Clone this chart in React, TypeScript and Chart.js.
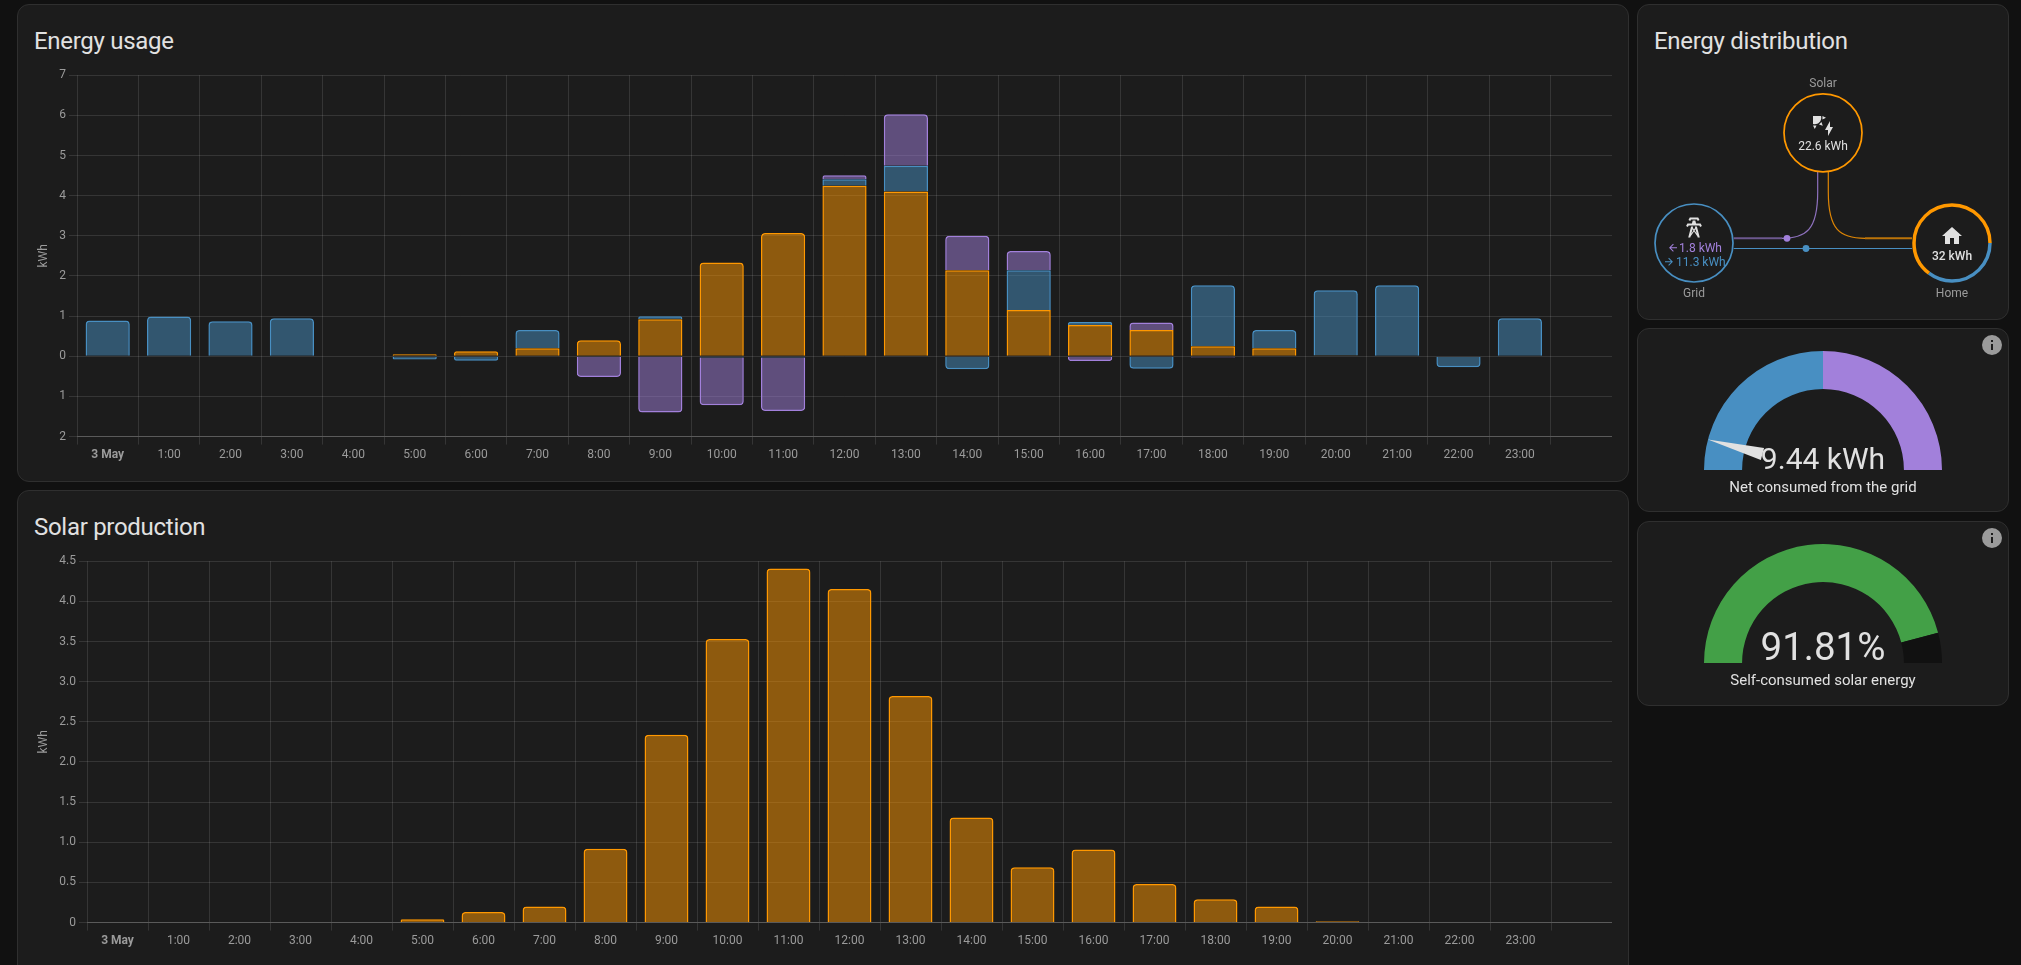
import { useEffect, useRef } from 'react'
import { Chart, ChartConfiguration } from 'chart.js/auto'

const hours = [
  '3 May', '1:00', '2:00', '3:00', '4:00', '5:00', '6:00', '7:00', '8:00', '9:00', '10:00', '11:00',
  '12:00', '13:00', '14:00', '15:00', '16:00', '17:00', '18:00', '19:00', '20:00', '21:00', '22:00', '23:00', ''
]

// Energy usage, stacked: positive values go up from zero, negative ones go down
const usageSolar = [0, 0, 0, 0, 0, 0.05, 0.125, 0.2, 0.4, 0.92, 2.335, 3.07, 4.25, 4.105, 2.145, 1.155, 0.78, 0.656, 0.25, 0.2, 0.02, 0, 0, 0, 0]
const usageGrid = [0.89, 0.99, 0.87, 0.95, 0, -0.08, -0.11, 0.456, 0, 0.08, -0.03, -0.03, 0.16, 0.64, -0.32, 0.99, 0.075, -0.31, 1.52, 0.456, 1.625, 1.77, -0.27, 0.95, 0]
const usageReturn = [0, 0, 0, 0, 0, 0, 0, 0, -0.515, -1.4, -1.19, -1.33, 0.1, 1.285, 0.855, 0.475, -0.115, 0.184, -0.03, 0, 0, 0, 0, 0, 0]

const solarProduction = [0, 0, 0, 0, 0, 0.042, 0.133, 0.2, 0.92, 2.34, 3.53, 4.41, 4.155, 2.82, 1.31, 0.69, 0.91, 0.48, 0.29, 0.2, 0.017, 0, 0, 0, 0]

const gridGaugeSegments = [1, 1]
const gridGaugeRange = [-11.3, 11.3]
const gridGaugeNeedle = -9.44
const selfConsumedSegments = [91.81, 8.19]

const homeFromSolar = 20.7
const homeFromGrid = 11.3

const TEXT = '#e1e1e1'
const MUTED = '#9b9b9b'
const GRID = 'rgba(225, 225, 225, 0.13)'
const AXIS = 'rgba(225, 225, 225, 0.22)'
const BLUE = '#488fc2'
const ORANGE = '#ff9800'
const PURPLE = '#a280db'
const GREEN = '#43a047'

const ICON_SOLAR = 'M11.45,2V5.55L15,3.77L11.45,2M10.45,8L8,10.46L11.75,11.71L10.45,8M2,11.45L3.77,15L5.55,11.45H2M10,2H2V10C2.57,10.17 3.17,10.25 3.77,10.25C7.35,10.26 10.26,7.35 10.27,3.75C10.26,3.16 10.17,2.57 10,2M17,22V16H14L19,7V13H22L17,22Z'
const ICON_TOWER = 'M8.28,5.45L6.5,4.55L7.76,2H16.23L17.5,4.55L15.72,5.44L15,4H9L8.28,5.45M18.62,8H14.09L13.3,5H10.7L9.91,8H5.38L4.1,10.55L5.89,11.44L6.62,10H17.38L18.1,11.45L19.89,10.56L18.62,8M17.77,22H15.7L15.46,21.1L12,15.9L8.53,21.1L8.3,22H6.23L9.12,11H11.19L10.83,12.35L12,14.1L13.16,12.35L12.81,11H14.88L17.77,22M11.4,15L10.5,13.65L9.32,18.13L11.4,15M14.68,18.12L13.5,13.64L12.6,15L14.68,18.12Z'
const ICON_HOME = 'M10,20V14H14V20H19V12H22L12,3L2,12H5V20H10Z'
const ICON_INFO = 'M13,9H11V7H13M13,17H11V11H13M12,2A10,10 0 0,0 2,12A10,10 0 0,0 12,22A10,10 0 0,0 22,12A10,10 0 0,0 12,2Z'
const ICON_LEFT = 'M20,11V13H8L13.5,18.5L12.08,19.92L4.16,12L12.08,4.08L13.5,5.5L8,11H20Z'
const ICON_RIGHT = 'M4,11V13H16L10.5,18.5L11.92,19.92L19.84,12L11.92,4.08L10.5,5.5L16,11H4Z'

Chart.defaults.font.family = 'Roboto'
Chart.defaults.font.size = 12
Chart.defaults.color = MUTED

function barDataset(data: number[], color: string, fill: string) {
  return {
    data,
    backgroundColor: fill,
    borderColor: color,
    borderWidth: 1.5,
    borderRadius: 4
  }
}

function barOptions(yWidth: number, min: number, max: number, step: number, format: (v: number) => string): any {
  return {
    responsive: false,
    animation: false,
    layout: { padding: { top: 0, right: 0, bottom: 0, left: 0 } },
    plugins: { legend: { display: false }, tooltip: { enabled: false } },
    scales: {
      x: {
        stacked: true,
        grid: {
          color: (ctx: any) => (ctx.tick ? GRID : 'transparent'),
          offset: true
        },
        border: { color: AXIS },
        ticks: {
          autoSkip: false,
          maxRotation: 0,
          color: MUTED,
          font: (ctx: any) => (ctx.index === 0 ? { size: 12, weight: 'bold' } : { size: 12 })
        }
      },
      y: {
        stacked: true,
        min,
        max,
        afterFit: (scale: any) => {
          scale.width = yWidth
        },
        grid: { color: GRID },
        border: { display: false },
        title: { display: true, text: 'kWh', color: MUTED, font: { size: 12 } },
        ticks: {
          stepSize: step,
          color: MUTED,
          callback: (value: any) => format(Number(value))
        }
      }
    }
  }
}

// Needle of the grid gauge, read from the value and range above
const needlePlugin = {
  id: 'needle',
  afterDatasetsDraw(chart: any) {
    const arc = chart.getDatasetMeta(0).data[0]
    const ctx = chart.ctx
    const fraction = (gridGaugeNeedle - gridGaugeRange[0]) / (gridGaugeRange[1] - gridGaugeRange[0])
    const angle = Math.PI + fraction * Math.PI
    const unit = arc.outerRadius / 47.5
    ctx.save()
    ctx.translate(arc.x, arc.y)
    ctx.rotate(angle)
    ctx.beginPath()
    ctx.moveTo(25 * unit, -2.5 * unit)
    ctx.lineTo(47.5 * unit, 0)
    ctx.lineTo(25 * unit, 2.5 * unit)
    ctx.closePath()
    ctx.fillStyle = TEXT
    ctx.fill()
    ctx.restore()
  }
}

function gaugeConfig(data: number[], colors: string[], plugins: any[] = []): ChartConfiguration<'doughnut'> {
  return {
    type: 'doughnut',
    data: {
      datasets: [{ data, backgroundColor: colors, borderWidth: 0 }]
    },
    options: {
      responsive: false,
      animation: false,
      rotation: -90,
      circumference: 180,
      cutout: '68%',
      plugins: { legend: { display: false }, tooltip: { enabled: false } }
    },
    plugins
  }
}

function ChartCanvas({ config, left, top, width, height }: { config: any; left: number; top: number; width: number; height: number }) {
  const ref = useRef<HTMLCanvasElement>(null)

  useEffect(() => {
    if (!ref.current) return
    const chart = new Chart(ref.current, config)
    return () => chart.destroy()
  }, [])

  return <canvas ref={ref} width={width} height={height} style={{ position: 'absolute', left, top, width, height }} />
}

function Card({ left, top, width, height }: { left: number; top: number; width: number; height: number }) {
  return (
    <div
      style={{
        position: 'absolute',
        left,
        top,
        width,
        height,
        boxSizing: 'border-box',
        background: '#1c1c1c',
        border: '1px solid #2f2f2f',
        borderRadius: 12
      }}
    />
  )
}

function Title({ text, left, top }: { text: string; left: number; top: number }) {
  return (
    <div style={{ position: 'absolute', left, top, fontSize: 24, lineHeight: '32px', color: TEXT, letterSpacing: '-0.29px', whiteSpace: 'nowrap' }}>
      {text}
    </div>
  )
}

function Caption({ text, top }: { text: string; top: number }) {
  return (
    <div style={{ position: 'absolute', left: 1637, width: 372, top, textAlign: 'center', fontSize: 15, lineHeight: '20px', color: TEXT, whiteSpace: 'nowrap' }}>
      {text}
    </div>
  )
}

function BigValue({ text, size, baseline }: { text: string; size: number; baseline: number }) {
  return (
    <svg style={{ position: 'absolute', left: 1637, top: baseline - 50, width: 372, height: 60 }}>
      <text x={186} y={50} textAnchor="middle" fontFamily="Roboto" fontSize={size} fill={TEXT}>{text}</text>
    </svg>
  )
}

function Icon({ path, x, y, color = TEXT, size = 24 }: { path: string; x: number; y: number; color?: string; size?: number }) {
  return (
    <g transform={`translate(${x} ${y}) scale(${size / 24})`}>
      <path d={path} fill={color} />
    </g>
  )
}

function Arc({ cx, cy, r, from, to, color, width }: { cx: number; cy: number; r: number; from: number; to: number; color: string; width: number }) {
  const c = 2 * Math.PI * r
  return (
    <circle
      cx={cx}
      cy={cy}
      r={r}
      fill="none"
      stroke={color}
      strokeWidth={width}
      strokeDasharray={`${(to - from) * c} ${c}`}
      strokeDashoffset={-from * c}
    />
  )
}

function Distribution() {
  const total = homeFromSolar + homeFromGrid
  const label = { fontFamily: 'Roboto', fontSize: 12, textAnchor: 'middle' } as const
  const flow = { fontFamily: 'Roboto', fontSize: 12, textAnchor: 'start' } as const
  return (
    <svg style={{ position: 'absolute', left: 0, top: 0, width: 2021, height: 330 }}>
      <path d="M1817.7 172 V192 C1817.7 230 1806 238.3 1782 238.3" fill="none" stroke={PURPLE} strokeOpacity={0.85} strokeWidth={1.2} />
      <path d="M1782 238.3 H1733.7" fill="none" stroke={PURPLE} strokeOpacity={0.6} strokeWidth={2} />
      <path d="M1828.3 172 V192 C1828.3 230 1840 238.3 1865 238.3" fill="none" stroke={ORANGE} strokeOpacity={0.85} strokeWidth={1.2} />
      <path d="M1865 238.3 H1912" fill="none" stroke={ORANGE} strokeOpacity={0.7} strokeWidth={2} />
      <path d="M1733.7 248.5 H1912" fill="none" stroke={BLUE} strokeWidth={1.2} />
      <circle cx={1787} cy={238.3} r={3.4} fill={PURPLE} />
      <circle cx={1806} cy={248.5} r={3.4} fill={BLUE} />

      <circle cx={1823} cy={132.8} r={39} fill="none" stroke={ORANGE} strokeWidth={1.7} />
      <circle cx={1694} cy={243} r={39} fill="none" stroke={BLUE} strokeWidth={1.7} />
      <Arc cx={1952} cy={243} r={38} from={0} to={homeFromGrid / total} color={BLUE} width={3.5} />
      <Arc cx={1952} cy={243} r={38} from={homeFromGrid / total} to={1} color={ORANGE} width={3.5} />

      <Icon path={ICON_SOLAR} x={1811} y={114} />
      <Icon path={ICON_TOWER} x={1682} y={215.5} />
      <Icon path={ICON_HOME} x={1940} y={224} />
      <Icon path={ICON_LEFT} x={1667} y={241.7} size={12} color={PURPLE} />
      <Icon path={ICON_RIGHT} x={1663} y={255.7} size={12} color={BLUE} />

      <text {...label} x={1823} y={87} fill={MUTED}>Solar</text>
      <text {...label} x={1823} y={150} fill={TEXT}>22.6 kWh</text>
      <text {...flow} x={1679} y={252} fill={PURPLE}>1.8 kWh</text>
      <text {...flow} x={1676} y={266} fill={BLUE}>11.3 kWh</text>
      <text {...label} x={1694} y={297} fill={MUTED}>Grid</text>
      <text {...label} x={1952} y={260} fontWeight={500} fill={TEXT}>32 kWh</text>
      <text {...label} x={1952} y={297} fill={MUTED}>Home</text>
    </svg>
  )
}

export default function App() {
  const usageConfig: any = {
    type: 'bar',
    data: {
      labels: hours,
      datasets: [
        barDataset(usageSolar, ORANGE, 'rgba(255, 152, 0, 0.5)'),
        barDataset(usageGrid, BLUE, 'rgba(72, 143, 194, 0.5)'),
        barDataset(usageReturn, PURPLE, 'rgba(162, 128, 219, 0.5)')
      ]
    },
    options: barOptions(44, -2, 7, 1, (v) => String(Math.abs(v)))
  }

  const solarConfig: any = {
    type: 'bar',
    data: {
      labels: hours,
      datasets: [barDataset(solarProduction, ORANGE, 'rgba(255, 152, 0, 0.5)')]
    },
    options: barOptions(54, 0, 4.5, 0.5, (v) => (v === 0 ? '0' : v.toFixed(1)))
  }

  return (
    <div style={{ position: 'absolute', left: 0, top: 0, width: 2021, height: 965, overflow: 'hidden', background: '#111111', fontFamily: 'Roboto' }}>
      <Card left={17} top={4} width={1612} height={478} />
      <Card left={17} top={490} width={1612} height={490} />
      <Card left={1637} top={4} width={372} height={316} />
      <Card left={1637} top={328} width={372} height={184} />
      <Card left={1637} top={521} width={372} height={185} />

      <Title text="Energy usage" left={34} top={25} />
      <Title text="Solar production" left={34} top={511} />
      <Title text="Energy distribution" left={1654} top={25} />

      <ChartCanvas config={usageConfig} left={33} top={65} width={1579} height={400} />
      <ChartCanvas config={solarConfig} left={33} top={551} width={1579} height={400} />

      <Distribution />

      <ChartCanvas config={gaugeConfig(gridGaugeSegments, [BLUE, PURPLE], [needlePlugin])} left={1704} top={351} width={238} height={119} />
      <ChartCanvas config={gaugeConfig(selfConsumedSegments, [GREEN, '#111111'])} left={1704} top={544} width={238} height={119} />

      <BigValue text="9.44 kWh" size={30} baseline={469} />
      <BigValue text="91.81%" size={38.5} baseline={660} />
      <Caption text="Net consumed from the grid" top={477} />
      <Caption text="Self-consumed solar energy" top={670} />

      <svg style={{ position: 'absolute', left: 1980, top: 333, width: 24, height: 24 }}>
        <Icon path={ICON_INFO} x={0} y={0} color={MUTED} />
      </svg>
      <svg style={{ position: 'absolute', left: 1980, top: 526, width: 24, height: 24 }}>
        <Icon path={ICON_INFO} x={0} y={0} color={MUTED} />
      </svg>
    </div>
  )
}
